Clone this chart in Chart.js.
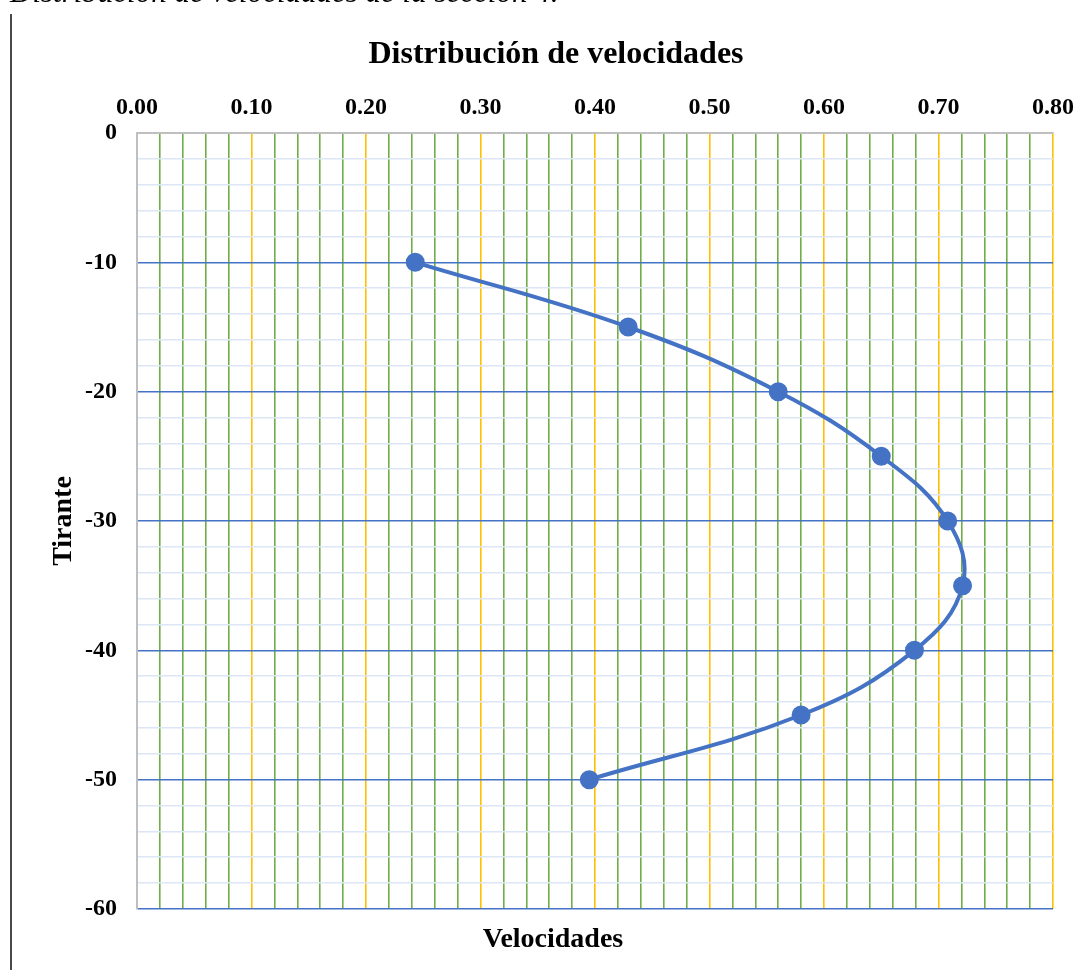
<!DOCTYPE html>
<html>
<head>
<meta charset="utf-8">
<script src="https://cdn.jsdelivr.net/npm/chart.js@4/dist/chart.umd.min.js"></script>
<style>
  html, body { margin: 0; padding: 0; background: #fff; overflow: hidden; }
  #wrap { position: relative; width: 1087px; height: 970px; overflow: hidden; }
  #cap { position: absolute; left: 10px; top: -24px; font: italic 31px/31px "Liberation Serif", "Times New Roman", serif; color: #000; white-space: nowrap; }
  #vline { position: absolute; left: 10px; top: 14px; width: 2px; height: 960px; background: #4a4a4a; }
  canvas { position: absolute; left: 0; top: 0; }
</style>
</head>
<body>
<div id="wrap">
  <canvas id="c" width="1087" height="970"></canvas>
  <div id="cap">Distribución de velocidades de la sección 4.</div>
  <div id="vline"></div>
</div>
<script>
const depths = [-10, -15, -20, -25, -30, -35, -40, -45, -50];
const velocities = [0.243, 0.429, 0.560, 0.650, 0.708, 0.721, 0.679, 0.580, 0.395];
const xTickLabels = ['0.00','0.10','0.20','0.30','0.40','0.50','0.60','0.70','0.80'];
const yTickLabels = ['0','-10','-20','-30','-40','-50','-60'];
const chartTitle = 'Distribución de velocidades';
const xAxisTitle = 'Velocidades';
const yAxisTitle = 'Tirante';

const points = velocities.map((v, i) => ({ x: v, y: depths[i] }));
const isMult = (v, m) => Math.abs(v / m - Math.round(v / m)) < 1e-6;
const font = "'Liberation Serif', 'Times New Roman', serif";

// Draws the chart title and the bottom axis title centred on the chart area (as Excel does)
const textPlugin = {
  id: 'excelTexts',
  afterDraw(chart) {
    const ctx = chart.ctx;
    ctx.save();
    ctx.fillStyle = '#000';
    ctx.textAlign = 'center';
    ctx.textBaseline = 'middle';
    ctx.font = 'bold 32px ' + font;
    ctx.fillText(chartTitle, 556, 55);
    ctx.font = 'bold 28px ' + font;
    ctx.fillText(xAxisTitle, 553, 940);
    ctx.restore();
  }
};

new Chart(document.getElementById('c'), {
  type: 'scatter',
  data: {
    datasets: [{
      data: points,
      showLine: true,
      borderColor: '#4472C4',
      backgroundColor: '#4472C4',
      borderWidth: 4,
      pointRadius: 7.5,
      pointHoverRadius: 7.5,
      tension: 0.4
    }]
  },
  plugins: [textPlugin],
  options: {
    responsive: false,
    animation: false,
    layout: { padding: { left: 43, right: 34, top: 90, bottom: 61 } },
    plugins: {
      legend: { display: false },
      tooltip: { enabled: false },
      title: { display: false }
    },
    scales: {
      x: {
        type: 'linear',
        position: 'top',
        min: 0, max: 0.8,
        afterFit: (s) => { s.height = 43; },
        ticks: {
          stepSize: 0.02,
          autoSkip: false,
          maxRotation: 0,
          padding: 11,
          color: '#000',
          font: { family: font, size: 24, weight: 'bold' },
          callback: (v) => {
            if (!isMult(v, 0.1)) return '';
            return xTickLabels[Math.round(v * 10)];
          }
        },
        grid: {
          drawTicks: false,
          lineWidth: 1.6,
          color: (ctx) => {
            const v = ctx.tick ? ctx.tick.value : 0;
            return isMult(v, 0.1) ? '#FFC000' : '#70AD47';
          }
        },
        border: { display: true, color: '#BFBFBF', width: 2 }
      },
      y: {
        type: 'linear',
        min: -60, max: 0,
        afterFit: (s) => { s.width = 94; },
        ticks: {
          stepSize: 2,
          autoSkip: false,
          padding: 20,
          color: '#000',
          font: { family: font, size: 24, weight: 'bold' },
          callback: (v) => {
            if (!isMult(v, 10)) return '';
            return yTickLabels[Math.round(-v / 10)];
          }
        },
        grid: {
          drawTicks: false,
          lineWidth: 1.6,
          color: (ctx) => {
            const v = ctx.tick ? ctx.tick.value : 0;
            return isMult(v, 10) ? '#4472C4' : '#DCE6F4';
          }
        },
        border: { display: true, color: '#BFBFBF', width: 2 },
        title: {
          display: true,
          text: yAxisTitle,
          font: { family: font, size: 28, weight: 'bold' },
          color: '#000',
          padding: { top: 4, bottom: 6 }
        }
      }
    }
  }
});
</script>
</body>
</html>
